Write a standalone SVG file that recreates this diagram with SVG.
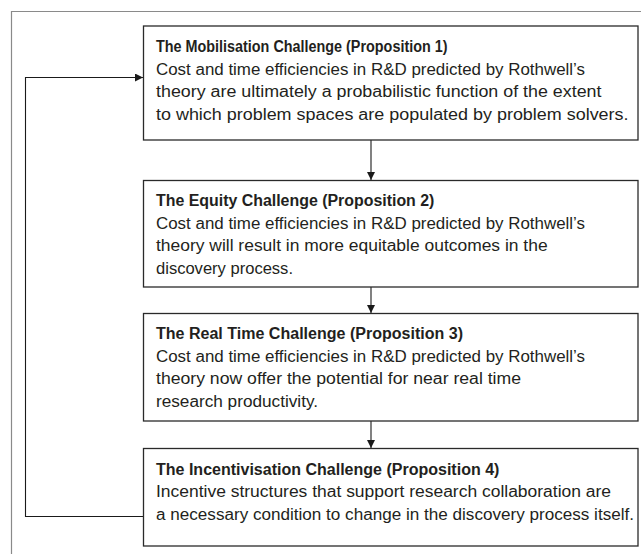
<svg xmlns="http://www.w3.org/2000/svg" width="641" height="554" viewBox="0 0 641 554">
<style>
.frame{fill:none;stroke:#8a8a8a;stroke-width:1.2}
.box{fill:#fff;stroke:#2a2a2a;stroke-width:1.3}
.con{fill:none;stroke:#1a1a1a;stroke-width:1.1}
text{font-family:"Liberation Sans",Arial,sans-serif;font-size:16px;fill:#231f20}
.t{font-weight:bold}
</style>
<defs>
<marker id="ah" viewBox="0 0 10 10" refX="10" refY="5" markerWidth="8" markerHeight="8" markerUnits="userSpaceOnUse" orient="auto">
<path d="M0,0 L10,5 L0,10 Z" fill="#1a1a1a"/>
</marker>
</defs>
<rect width="641" height="554" fill="#fff"/>
<path class="frame" d="M11.5,560 V11.5 H650"/>
<g id="connectors">
<line class="con" x1="371" y1="140" x2="371" y2="180" marker-end="url(#ah)"/>
<line class="con" x1="371" y1="287" x2="371" y2="313" marker-end="url(#ah)"/>
<line class="con" x1="371" y1="421" x2="371" y2="448" marker-end="url(#ah)"/>
<path class="con" d="M143,516.5 H25.5 V77.5 H143" marker-end="url(#ah)"/>
</g>
<g id="node1">
<rect class="box" x="143.5" y="26" width="494.5" height="114"/>
<text class="t" x="156" y="52" textLength="291.5" lengthAdjust="spacingAndGlyphs">The Mobilisation Challenge (Proposition 1)</text>
<text x="156" y="74.6" textLength="429" lengthAdjust="spacingAndGlyphs">Cost and time efficiencies in R&amp;D predicted by Rothwell’s</text>
<text x="156" y="97.2" textLength="445.5" lengthAdjust="spacingAndGlyphs">theory are ultimately a probabilistic function of the extent</text>
<text x="156" y="119.8" textLength="472.5" lengthAdjust="spacingAndGlyphs">to which problem spaces are populated by problem solvers.</text>
</g>
<g id="node2">
<rect class="box" x="143.5" y="180.5" width="494.5" height="106.5"/>
<text class="t" x="156" y="206" textLength="278.4" lengthAdjust="spacingAndGlyphs">The Equity Challenge (Proposition 2)</text>
<text x="156" y="228.6" textLength="429" lengthAdjust="spacingAndGlyphs">Cost and time efficiencies in R&amp;D predicted by Rothwell’s</text>
<text x="156" y="251.2" textLength="391.6" lengthAdjust="spacingAndGlyphs">theory will result in more equitable outcomes in the</text>
<text x="156" y="273.8" textLength="137" lengthAdjust="spacingAndGlyphs">discovery process.</text>
</g>
<g id="node3">
<rect class="box" x="143.5" y="313.5" width="494.5" height="107.5"/>
<text class="t" x="156" y="339" textLength="307" lengthAdjust="spacingAndGlyphs">The Real Time Challenge (Proposition 3)</text>
<text x="156" y="361.6" textLength="429" lengthAdjust="spacingAndGlyphs">Cost and time efficiencies in R&amp;D predicted by Rothwell’s</text>
<text x="156" y="384.2" textLength="365" lengthAdjust="spacingAndGlyphs">theory now offer the potential for near real time</text>
<text x="156" y="406.8" textLength="162" lengthAdjust="spacingAndGlyphs">research productivity.</text>
</g>
<g id="node4">
<rect class="box" x="143.5" y="448.5" width="494.5" height="97.5"/>
<text class="t" x="156" y="474.5" textLength="343.4" lengthAdjust="spacingAndGlyphs">The Incentivisation Challenge (Proposition 4)</text>
<text x="156" y="497" textLength="455" lengthAdjust="spacingAndGlyphs">Incentive structures that support research collaboration are</text>
<text x="156" y="519.6" textLength="478" lengthAdjust="spacingAndGlyphs">a necessary condition to change in the discovery process itself.</text>
</g>
</svg>
